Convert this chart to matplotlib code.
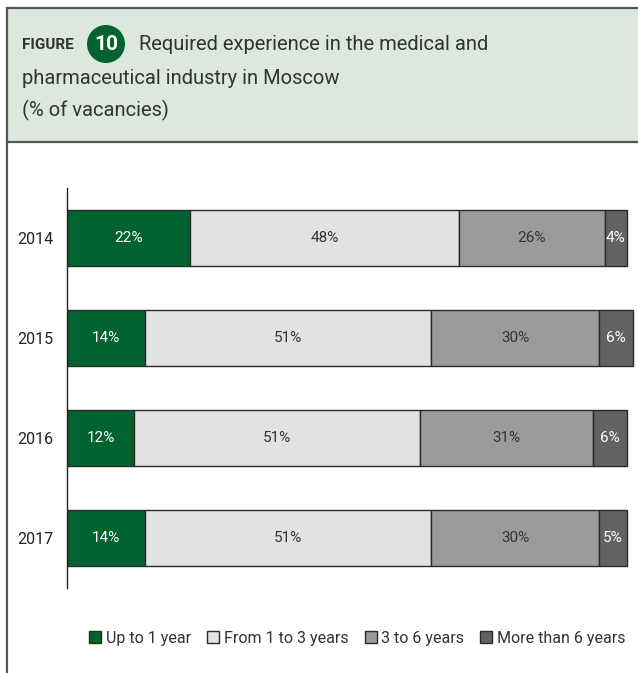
import matplotlib.pyplot as plt
from matplotlib.patches import Rectangle, Ellipse
import numpy as np

# data
years = ['2014', '2015', '2016', '2017']
up_to_1 = [22, 14, 12, 14]
from_1_to_3 = [48, 51, 51, 51]
from_3_to_6 = [26, 30, 31, 30]
more_than_6 = [4, 6, 6, 5]

series = [up_to_1, from_1_to_3, from_3_to_6, more_than_6]
names = ['Up to 1 year', 'From 1 to 3 years', '3 to 6 years', 'More than 6 years']
colors = ['#036330', '#e2e2e2', '#9b9b9b', '#626262']
text_colors = ['white', '#333333', '#333333', 'white']

plt.rcParams['font.family'] = ['Roboto', 'DejaVu Sans']

W, H = 638, 673
fig = plt.figure(figsize=(W / 100, H / 100), dpi=100)


def fx(x):
    return x / W


def fy(y):
    return 1 - y / H


# header panel and frame
fig.patches.append(Rectangle((fx(7), fy(142)), fx(640 - 7), 134 / H, transform=fig.transFigure,
                             facecolor='#dce7de', edgecolor='none', zorder=0))
fig.add_artist(plt.Line2D([fx(7), fx(7)], [fy(8), 0], color='#555555', lw=1.6))
fig.add_artist(plt.Line2D([fx(7), 1], [fy(8), fy(8)], color='#555555', lw=1.6))
fig.add_artist(plt.Line2D([fx(7), 1], [fy(142), fy(142)], color='#555555', lw=1.6))

fig.text(fx(22), fy(45), 'FIGURE', fontsize=11, fontweight='bold', color='#333333', va='center')
fig.add_artist(Ellipse((fx(106), fy(44)), 38 / W, 38 / H, transform=fig.transFigure,
                       facecolor='#036330', edgecolor='none'))
fig.text(fx(106), fy(45), '10', fontsize=15, fontweight='bold', color='white', ha='center', va='center')
fig.text(fx(139), fy(45), 'Required experience in the medical and', fontsize=14.5, color='#333333', va='center')
fig.text(fx(22), fy(78), 'pharmaceutical industry in Moscow', fontsize=14.5, color='#333333', va='center')
fig.text(fx(22), fy(110), '(% of vacancies)', fontsize=14.5, color='#333333', va='center')

# chart
ax = fig.add_axes([fx(67), fy(588), 568.4 / W, 400 / H])
y = np.arange(len(years))
left = np.zeros(len(years))
handles = []
for vals, name, c, tc in zip(series, names, colors, text_colors):
    bars = ax.barh(y, vals, left=left, height=0.56, color=c, edgecolor='#2a2a2a', linewidth=1, label=name)
    handles.append(bars)
    for yi, v, l in zip(y, vals, left):
        ax.text(l + v / 2, yi, f'{v}%', ha='center', va='center', fontsize=11, color=tc)
    left = left + np.array(vals)

ax.set_xlim(0, 101.5)
ax.set_ylim(3.5, -0.5)
ax.set_yticks(y)
ax.set_yticklabels(years, fontsize=11.5, color='#222222')
ax.tick_params(axis='y', length=0, pad=10)
ax.set_xticks([])
for s in ['top', 'right', 'bottom']:
    ax.spines[s].set_visible(False)
ax.spines['left'].set_color('#222222')
ax.spines['left'].set_linewidth(1)
ax.patch.set_alpha(0)

fig.legend(handles=handles, labels=names, loc='center right', bbox_to_anchor=(fx(632), fy(638)),
           ncol=4, frameon=False, fontsize=11.5, handlelength=0.75, handleheight=0.75,
           handletextpad=0.3, columnspacing=1.0, labelcolor='#333333', borderaxespad=0)

fig.savefig('out.png', dpi=100)
